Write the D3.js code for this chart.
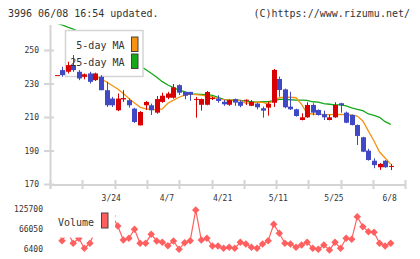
<!DOCTYPE html>
<html>
<head>
<meta charset="utf-8">
<script src="https://cdn.jsdelivr.net/npm/d3@7"></script>
<style>
  body { margin: 0; background: #fff; }
  svg { display: block; font-family: "DejaVu Sans Mono", monospace; }
</style>
</head>
<body>
<svg id="chart" width="420" height="259"></svg>
<script>
// trading days shown (3/9 .. 6/8)
var dates = ["3/9","3/10","3/11","3/12","3/13","3/16","3/17","3/18","3/19","3/23","3/24","3/25","3/26","3/27","3/30","3/31",
  "4/1","4/2","4/3","4/6","4/7","4/8","4/9","4/10","4/13","4/14","4/15","4/16","4/17","4/20","4/21","4/22","4/23","4/24","4/27","4/28","4/30",
  "5/1","5/7","5/8","5/11","5/12","5/13","5/14","5/15","5/18","5/19","5/20","5/21","5/22","5/25","5/26","5/27","5/28","5/29",
  "6/1","6/2","6/3","6/4","6/5","6/8"];

var open = [235, 238, 237, 241, 237, 234, 236, 232, 234, 226,
  221, 214, 220.5, 220, 215, 205, 217, 217, 212.6, 219,
  221.5, 221.5, 229, 225, 225, 220.2, 217.3, 217.3, 220.7, 220.9,
  219.1, 217.3, 220.7, 219.1, 219.7, 216.7, 218, 215.2, 215.6, 218.5,
  232.7, 226.5, 216.2, 214.6, 208.2, 209.8, 217.2, 214.2, 211.6, 208.2,
  209.8, 218.2, 212.6, 211.2, 205.2, 197.9, 189.9, 183.9, 180, 183.9,
  180.4];
var high = [235, 240, 243, 247, 238, 236, 237, 236.5, 235, 231,
  222, 224, 226, 221, 215.5, 213.5, 219.5, 218, 222.5, 224.5,
  225, 229.7, 229.5, 225, 225, 222, 221, 225.5, 222.1, 223,
  220.3, 220.5, 221, 220, 220.5, 220.1, 218.5, 216.2, 219.1, 238.7,
  234.1, 227, 225.1, 215, 212.2, 218.8, 218.2, 214.5, 213.8, 211.4,
  218.8, 218.5, 213.2, 211.5, 205.5, 198.2, 191, 185.3, 182.5, 184.2,
  182];
var low = [235, 234, 236, 237, 232, 232.5, 230, 231.5, 226, 216,
  216, 213.5, 219, 215.6, 206.5, 205, 214.2, 211.2, 212, 218.5,
  220.6, 221, 223.1, 220.6, 219.7, 209.6, 213.8, 217, 220.1, 218.5,
  216.7, 216.7, 216.7, 215.8, 217.2, 216.5, 214.6, 209.6, 210.8, 216,
  222.1, 215.2, 214.2, 210.2, 208, 209.5, 211, 210.8, 208.2, 208,
  209.5, 212.6, 206.3, 205, 193.3, 189, 184, 179.4, 178.4, 179.7,
  178.3];
var close = [235, 235, 241, 238, 233, 235.5, 231, 236, 226, 217,
  217, 221, 221.3, 217, 207, 213, 219, 214, 220.7, 222.7,
  224, 227.7, 224.5, 222.7, 223.3, 220.8, 220.7, 224.9, 221.5, 219.6,
  217.6, 220.1, 218.6, 216.7, 220.3, 219.1, 215.8, 213.8, 217.8, 238.1,
  226.1, 215.8, 214.6, 210.6, 209.8, 217.2, 212.6, 211.2, 209.8, 209.8,
  217.2, 217, 206.6, 205.2, 198.7, 189.3, 184.3, 181.3, 182, 180,
  180.8];

var ma5 = [null, null, null, null, 236.3, 236.4, 235.5, 234.4, 232.7, 230.9,
  228.8, 226.7, 224, 221, 218.4, 215.9, 214.8, 214.5, 214.4, 214.8,
  218.2, 220.1, 221.8, 223.1, 223.7, 223.4, 223, 222.5, 222.2, 220.7,
  220.4, 220.1, 220.1, 219.9, 218.1, 218.6, 218.8, 218.7, 217.8, 220,
  221.5, 221.8, 221.8, 221.5, 217.5, 212.2, 211.8, 211.6, 211.5, 211.4,
  211.5, 211.6, 211.4, 211.2, 210.6, 207.6, 201.6, 195.7, 189.1, 185.5,
  181.9];
var ma25 = [266, 265, 263.7, 262.5, 261, 259.5, 258, 256.5, 255, 253,
  251, 249, 247, 244.5, 242.5, 240.5, 238.4, 236.1, 233.7, 231.1,
  229.1, 227.5, 226.1, 225.1, 223.7, 223.7, 223.5, 223.3, 222.9, 221.7,
  220.5, 220.1, 220.1, 219.9, 219.5, 219.1, 218.9, 219.1, 219.1, 219.7,
  220.5, 220.5, 220.3, 220.1, 220.1, 219.9, 219.1, 218.9, 218, 217.6,
  217.2, 217.2, 216.6, 215.4, 214.6, 213.8, 211.8, 211, 209.8, 207.2,
  205.6];

var volume = [78000, 31000, 57000, 23400, 38300, 8500, 23400, 63000, 78000, 93000,
  105000, 75000, 33200, 38300, 65150, 23400, 23400, 50200, 30300, 26400,
  16200, 30300, 5500, 25200, 31150, 122700, 33200, 38300, 15350, 15350,
  8500, 11500, 8500, 26400, 21300, 11500, 8500, 21300, 31150, 80000,
  53200, 23400, 21300, 11500, 18300, 26400, 8500, 5500, 18300, 3400,
  26400, 8500, 38300, 35300, 102700, 72900, 58000, 56200, 23400, 15350,
  23400];

var dateLabels = ["3/24", "4/7", "4/21", "5/11", "5/25", "6/8"];
var priceTicks = [170, 190, 210, 230, 250];
var volumeTicks = [6400, 66050, 125700];

var colorUp = "#d80000", colorDown = "#4048c4",
  colorMa5 = "#f39214", colorMa25 = "#16a816", colorVol = "#ff5f5f",
  axisColor = "#d4d4d4", textColor = "#333";

var svg = d3.select("#chart");

var x = d3.scalePoint().domain(dates).range([56.5, 390.7]);
var y = d3.scaleLinear().domain([170, 250]).range([184, 50]);
var v = d3.scaleLinear().domain([6400, 125700]).range([249, 209]);
var grid = d3.scaleLinear().domain([0, 11]).range([50, 405.3]);

// header
svg.append("text").attr("x", 8).attr("y", 16.5)
  .attr("font-size", 10).attr("fill", textColor)
  .text("3996 06/08 16:54 updated.");
svg.append("text").attr("x", 410).attr("y", 16.5)
  .attr("font-size", 10).attr("fill", textColor).attr("text-anchor", "end")
  .text("(C)https://www.rizumu.net/");

// axes lines
svg.append("line").attr("x1", 50.5).attr("x2", 50.5).attr("y1", 25).attr("y2", 189)
  .attr("stroke", axisColor).attr("stroke-width", 2);
svg.append("line").attr("x1", 50).attr("x2", 406).attr("y1", 185).attr("y2", 185)
  .attr("stroke", axisColor).attr("stroke-width", 2);

svg.append("g").selectAll("line").data(d3.range(12)).enter().append("line")
  .attr("x1", function (d) { return Math.round(grid(d)) + 0.5; })
  .attr("x2", function (d) { return Math.round(grid(d)) + 0.5; })
  .attr("y1", 180).attr("y2", 189)
  .attr("stroke", axisColor).attr("stroke-width", 2);

var yAxis = svg.append("g").attr("transform", "translate(50,0)")
  .call(d3.axisLeft(y).tickValues(priceTicks).tickSize(6).tickPadding(5));
yAxis.select(".domain").remove();
yAxis.selectAll("line").attr("x1", 4).attr("stroke", axisColor).attr("stroke-width", 2);
yAxis.selectAll("text").attr("font-size", 8).attr("fill", textColor)
  .attr("font-family", "DejaVu Sans Mono, monospace");

// date labels
svg.append("g").selectAll("text").data(dateLabels).enter().append("text")
  .attr("x", function (d) { return x(d) - 1; })
  .attr("y", 201)
  .attr("text-anchor", "middle").attr("font-size", 8).attr("fill", textColor)
  .text(function (d) { return d; });

// price plot
svg.append("clipPath").attr("id", "plotClip").append("rect")
  .attr("x", 51).attr("y", 24.5).attr("width", 360).attr("height", 160);
var plot = svg.append("g").attr("clip-path", "url(#plotClip)");

var line = function (values) {
  return d3.line()
    .defined(function (d) { return d != null; })
    .x(function (d, i) { return x(dates[i]); })
    .y(function (d) { return y(d); })(values);
};

plot.append("path").attr("d", line(ma25))
  .attr("fill", "none").attr("stroke", colorMa25).attr("stroke-width", 1.3);
plot.append("path").attr("d", line(ma5))
  .attr("fill", "none").attr("stroke", colorMa5).attr("stroke-width", 1.3);

// legend box (covers the MA lines, candles are drawn on top)
plot.append("rect").attr("x", 65.5).attr("y", 30.5).attr("width", 77.5).attr("height", 46)
  .attr("fill", "#fff").attr("stroke", axisColor).attr("stroke-width", 1.5);

var candles = plot.append("g").selectAll("g").data(dates).enter().append("g")
  .attr("fill", function (d, i) { return close[i] >= open[i] ? colorUp : colorDown; })
  .attr("stroke", function (d, i) { return close[i] >= open[i] ? colorUp : colorDown; });

candles.append("line")
  .attr("x1", function (d) { return Math.round(x(d)) + 0.5; })
  .attr("x2", function (d) { return Math.round(x(d)) + 0.5; })
  .attr("y1", function (d, i) { return y(high[i]); })
  .attr("y2", function (d, i) { return y(low[i]); })
  .attr("stroke-width", 1);

candles.append("rect")
  .attr("x", function (d) { return Math.round(x(d)) - 2; })
  .attr("width", 5)
  .attr("y", function (d, i) { return y(Math.max(open[i], close[i])); })
  .attr("height", function (d, i) { return Math.max(1, Math.abs(y(open[i]) - y(close[i]))); })
  .attr("stroke", "none");

// price legend
var legend = [["5-day MA", colorMa5], ["25-day MA", colorMa25]];
var lg = svg.append("g").selectAll("g").data(legend).enter().append("g")
  .attr("transform", function (d, i) { return "translate(0," + (i * 17) + ")"; });
lg.append("text").attr("x", 124.5).attr("y", 49)
  .attr("text-anchor", "end").attr("font-size", 10).attr("fill", textColor)
  .text(function (d) { return d[0]; });
lg.append("rect").attr("x", 131.5).attr("y", 37).attr("width", 6.5).attr("height", 14.5)
  .attr("fill", function (d) { return d[1]; }).attr("stroke", "#444").attr("stroke-width", 1);

// volume
var vAxis = svg.append("g").attr("transform", "translate(50,0)")
  .call(d3.axisLeft(v).tickValues(volumeTicks).tickSize(0).tickPadding(7).tickFormat(d3.format("d")));
vAxis.select(".domain").remove();
vAxis.selectAll("text").attr("font-size", 8).attr("fill", textColor)
  .attr("font-family", "DejaVu Sans Mono, monospace");

var volG = svg.append("g");
volG.append("path")
  .attr("d", d3.line()
    .x(function (d, i) { return x(dates[i]); })
    .y(function (d) { return v(d); })(volume))
  .attr("fill", "none").attr("stroke", colorVol).attr("stroke-width", 1.2);

volG.selectAll("path.pt").data(volume).enter().append("path").attr("class", "pt")
  .attr("d", d3.symbol(d3.symbolSquare, 28))
  .attr("transform", function (d, i) { return "translate(" + x(dates[i]) + "," + v(d) + ") rotate(45)"; })
  .attr("fill", colorVol);

// volume legend
svg.append("rect").attr("x", 53).attr("y", 207).attr("width", 62).attr("height", 30.5).attr("fill", "#fff");
svg.append("text").attr("x", 58).attr("y", 226).attr("font-size", 10).attr("fill", textColor).text("Volume");
svg.append("rect").attr("x", 101.5).attr("y", 213).attr("width", 6.5).attr("height", 15)
  .attr("fill", colorVol).attr("stroke", "#444").attr("stroke-width", 1);
</script>
</body>
</html>
